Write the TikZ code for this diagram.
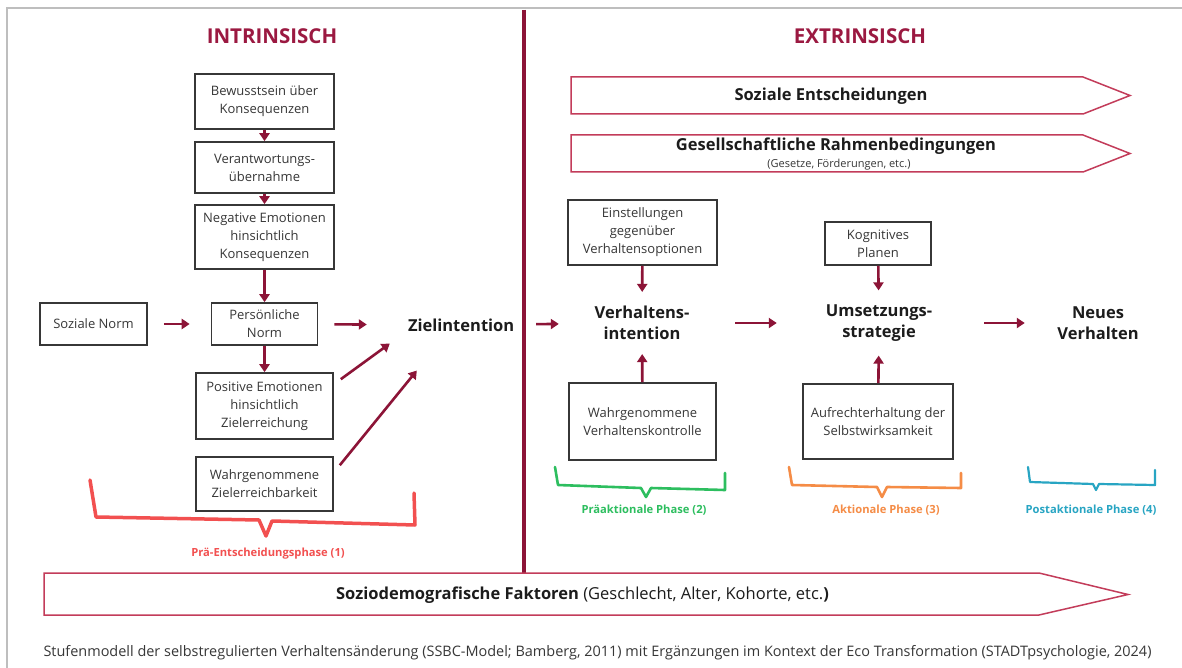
\documentclass[tikz,border=0pt]{standalone}
\usepackage{fontspec}
\setmainfont{Open Sans}
\usetikzlibrary{arrows.meta,calc}
\definecolor{dred}{RGB}{140,20,55}
\definecolor{tred}{RGB}{155,25,65}
\definecolor{bred}{RGB}{195,60,90}
\definecolor{bgray}{RGB}{55,55,55}
\definecolor{tgray}{RGB}{55,55,55}
\definecolor{lblk}{RGB}{28,28,28}
\definecolor{lred}{RGB}{242,80,80}
\definecolor{pgreen}{RGB}{45,190,95}
\definecolor{porange}{RGB}{245,140,70}
\definecolor{pblue}{RGB}{40,165,195}
\definecolor{frame}{RGB}{190,190,190}
\begin{document}
\begin{tikzpicture}[x=1pt,y=-1pt,
  box/.style={draw=bgray, line width=1.6pt, align=center, text=tgray, font=\fontsize{13}{18}\selectfont, inner sep=0pt},
  lbl/.style={align=center, text=lblk, font=\fontsize{16.5}{21}\selectfont\bfseries, inner sep=0pt},
  ttl/.style={text=tred, font=\fontsize{20.5}{24}\selectfont\bfseries, inner sep=0pt},
  arr/.style={draw=dred, line width=2.6pt, -{Triangle[length=8pt,width=10pt]}},
  banner/.style={draw=bred, line width=1.5pt, fill=white},
  brace/.style={line width=3pt, line join=round, line cap=round},
  phase/.style={font=\fontsize{11.2}{13}\selectfont\bfseries, inner sep=0pt}
]
% canvas and frame
\fill[white] (0,0) rectangle (1182,668);
\useasboundingbox (0,0) rectangle (1182,668);
\draw[frame, line width=2pt] (7,668) -- (7,8.5) -- (1182,8.5);

% titles
\node[ttl] (tin) at (272,36) {INTRINSISCH};
\node[ttl] (tex) at (860,36) {EXTRINSISCH};

% divider
\draw[dred, line width=4pt] (524,10) -- (524,573);

% left column
\node[box, minimum width=139pt, minimum height=55pt] (b1) at (264.5,101.5) {Bewusstsein über\\Konsequenzen};
\node[box, minimum width=139pt, minimum height=51pt] (b2) at (264.5,167.5) {Verantwortungs-\\übernahme};
\node[box, minimum width=139pt, minimum height=64pt] (b3) at (264.5,237) {Negative Emotionen\\hinsichtlich\\Konsequenzen};
\node[box, minimum width=106pt, minimum height=42pt] (pn) at (264.5,324) {Persönliche\\Norm};
\node[box, minimum width=107pt, minimum height=42pt] (sn) at (93.5,324) {Soziale Norm};
\node[box, minimum width=137pt, minimum height=66pt] (pe) at (264.5,406) {Positive Emotionen\\hinsichtlich\\Zielerreichung};
\node[box, minimum width=137pt, minimum height=54pt] (wz) at (264.5,484) {Wahrgenommene\\Zielerreichbarkeit};
\node[lbl, text width=104pt] (zi) at (460,325) {Zielintention};

\draw[arr] (b1) -- (b2);
\draw[arr] (b2) -- (b3);
\draw[arr] (b3) -- (pn);
\draw[arr] (pn) -- (pe);
\draw[arr, shorten <=16pt, shorten >=21pt] (sn) -- (pn);
\draw[arr, shorten <=16pt, shorten >=41pt] (pn) -- (zi);
\draw[arr] ($(pe.north east)+(7,7)$) -- ($(zi.south west)+(-18,12)$);
\draw[arr] ($(wz.north east)+(6,9)$) -- ($(zi.south west)+(9,39)$);

% red brace
\draw[lred, brace, line width=3.5pt] (90,480) -- (96,517) -- (259,520) -- (266,536) -- (272,521) -- (415,525) -- (414,493);
\node[phase, text=lred] (p1) at (268,554) {Prä-Entscheidungsphase (1)};

% right side banners
\draw[banner] (571,77) -- (1083,77) -- (1130,95.5) -- (1083,114) -- (571,114) -- cycle;
\node[lbl] (se) at (831,96) {Soziale Entscheidungen};
\draw[banner] (571,135) -- (1083,135) -- (1130,153.5) -- (1083,172) -- (571,172) -- cycle;
\node[lbl] (gr) at (836,146) {Gesellschaftliche Rahmenbedingungen};
\node[inner sep=0pt, text=tgray, font=\fontsize{11}{13}\selectfont] (grs) at (839,164.5) {(Gesetze, Förderungen, etc.)};

% right side boxes
\node[box, minimum width=149pt, minimum height=65pt] (es) at (642.5,232.5) {Einstellungen\\gegenüber\\Verhaltensoptionen};
\node[box, minimum width=106pt, minimum height=43pt] (kp) at (878,243.5) {Kognitives\\Planen};
\node[box, minimum width=147pt, minimum height=77pt] (wv) at (642.5,421.5) {Wahrgenommene\\Verhaltenskontrolle};
\node[box, minimum width=150pt, minimum height=75pt] (av) at (878,421.5) {Aufrechterhaltung der\\Selbstwirksamkeit};

\node[lbl, text width=110pt] (vi) at (642,323) {Verhaltens-\\intention};
\node[lbl, text width=110pt] (us) at (879,323) {Umsetzungs-\\strategie};
\node[lbl, text width=90pt] (nv) at (1098,323) {Neues\\Verhalten};

\draw[arr, shorten <=24pt, shorten >=28pt] (zi) -- (vi);
\draw[arr, shorten <=38pt, shorten >=47pt] (vi) -- (us);
\draw[arr, shorten <=50pt, shorten >=28pt] (us) -- (nv);
\draw[arr, shorten >=14pt] (es) -- (vi);
\draw[arr, shorten >=14pt] (kp) -- (us);
\draw[arr, shorten >=14pt] (wv) -- (vi);
\draw[arr, shorten >=14pt] (av) -- (us);

% phase braces
\draw[pgreen, brace, line width=2.6pt] (555,467) -- (558,485) -- (641,488) -- (646,497) -- (651,488) -- (725,490) -- (725,473);
\node[phase, text=pgreen] (p2) at (644,510) {Präaktionale Phase (2)};
\draw[porange, brace, line width=2.6pt] (789,467) -- (792,485) -- (877,487) -- (882,497) -- (887,487) -- (961,488) -- (961,473);
\node[phase, text=porange] (p3) at (886,510) {Aktionale Phase (3)};
\draw[pblue, brace, line width=2.2pt] (1028,467) -- (1030,482) -- (1093,484) -- (1096,490) -- (1099,484) -- (1155,485) -- (1155,470);
\node[phase, text=pblue] (p4) at (1091,510) {Postaktionale Phase (4)};

% bottom banner
\draw[banner] (44,573) -- (1039,573) -- (1128,594.5) -- (1039,615) -- (44,615) -- cycle;
\node[inner sep=0pt, text=lblk, font=\fontsize{16.5}{18}\selectfont] (sd) at (582.5,595) {\bfseries Soziodemografische Faktoren\mdseries{} (Geschlecht, Alter, Kohorte, etc.\textbf{)}};

% caption
\node[inner sep=0pt, text=tgray, font=\fontsize{14.45}{16}\selectfont] (cap) at (597.5,653) {Stufenmodell der selbstregulierten Verhaltensänderung (SSBC-Model; Bamberg, 2011) mit Ergänzungen im Kontext der Eco Transformation (STADTpsychologie, 2024)};
\end{tikzpicture}
\end{document}
